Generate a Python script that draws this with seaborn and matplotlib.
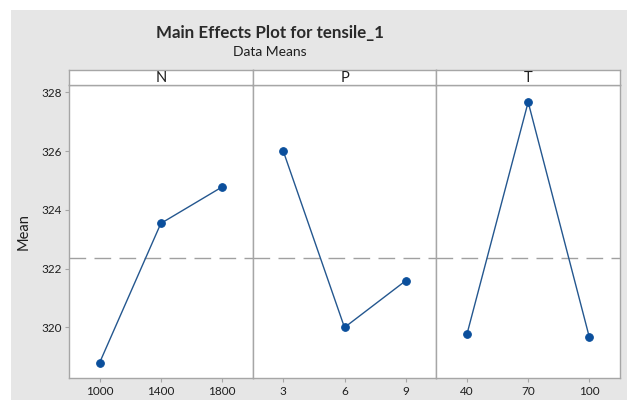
import matplotlib
matplotlib.use("Agg")
import matplotlib.pyplot as plt
from matplotlib.patches import Rectangle
import seaborn as sns
import pandas as pd

# Factor levels and the mean tensile response at each level
n_levels = ["1000", "1400", "1800"]
n_means = [318.80, 323.54, 324.78]
p_levels = ["3", "6", "9"]
p_means = [326.00, 320.00, 321.59]
t_levels = ["40", "70", "100"]
t_means = [319.77, 327.67, 319.66]
factors = ["N", "P", "T"]
grand_mean = 322.37
y_ticks = [320, 322, 324, 326, 328]

sns.set_style("white")
plt.rcParams["font.family"] = ["Lato", "DejaVu Sans"]
plt.rcParams["lines.scale_dashes"] = False

W, H = 627, 401
fig = plt.figure(figsize=(W / 100, H / 100), dpi=100)
fig.patch.set_facecolor("white")

# grey backdrop panel
fig.patches.append(Rectangle((11 / W, 1 / H), 1 - 11 / W, (400 - 10) / H,
                             transform=fig.transFigure, facecolor="#e6e6e6",
                             edgecolor="none", zorder=-10))

frame_col = "#a6a6a6"
line_col = "#24578f"
marker_col = "#0b4f9c"
text_col = "#1e1e1e"

left, right = 69 / W, 620 / W
bottom, top = (H - 378) / H, (H - 85) / H
strip_top = (H - 70) / H

gs = fig.add_gridspec(1, 3, left=left, right=right, bottom=bottom, top=top, wspace=0)

data = {
    "N": (n_levels, n_means),
    "P": (p_levels, p_means),
    "T": (t_levels, t_means),
}

axes = []
for i, fac in enumerate(factors):
    ax = fig.add_subplot(gs[0, i], sharey=axes[0] if axes else None)
    axes.append(ax)
    levels, means = data[fac]
    df = pd.DataFrame({"level": levels, "mean": means})
    ax.axhline(grand_mean, color="#a0a0a0", lw=1.0, ls=(0, (12, 6)), zorder=1)
    sns.pointplot(data=df, x="level", y="mean", order=levels, ax=ax,
                  color=line_col, markers="o", linestyles="-",
                  markersize=5.5, linewidth=1.0, errorbar=None, zorder=3)
    for ln in ax.lines:
        if ln.get_marker() == "o":
            ln.set_markerfacecolor(marker_col)
            ln.set_markeredgecolor(marker_col)
    ax.set_xlim(-0.5, 2.5)
    ax.set_ylim(318.28, 328.25)
    ax.set_facecolor("white")
    ax.set_xlabel("")
    ax.set_ylabel("")
    for s in ax.spines.values():
        s.set_color(frame_col)
        s.set_linewidth(1.0)
    ax.tick_params(axis="x", length=3, color=frame_col, labelsize=8.5,
                   labelcolor=text_col, pad=3, bottom=True)
    if i == 0:
        ax.set_yticks(y_ticks)
        ax.tick_params(axis="y", length=3, color=frame_col, labelsize=8.5,
                       labelcolor=text_col, pad=2, left=True)
        ax.set_ylabel("Mean", fontsize=10.5, color=text_col, labelpad=8)
    else:
        ax.tick_params(axis="y", left=False, labelleft=False)

    # facet strip
    pos = ax.get_position()
    sax = fig.add_axes([pos.x0, pos.y1, pos.width, strip_top - pos.y1])
    sax.set_facecolor("white")
    sax.set_xticks([])
    sax.set_yticks([])
    for s in sax.spines.values():
        s.set_color(frame_col)
        s.set_linewidth(1.0)
    sax.text(0.5, 0.45, fac, ha="center", va="center", fontsize=10.5,
             color=text_col, transform=sax.transAxes)

fig.text(270 / W, 1 - 33 / H, "Main Effects Plot for tensile_1", ha="center",
         va="center", fontsize=12.2, weight="bold", color="#2a2a2a")
fig.text(270 / W, 1 - 52 / H, "Data Means", ha="center", va="center",
         fontsize=10, color=text_col)

fig.savefig("out.png", dpi=100)
